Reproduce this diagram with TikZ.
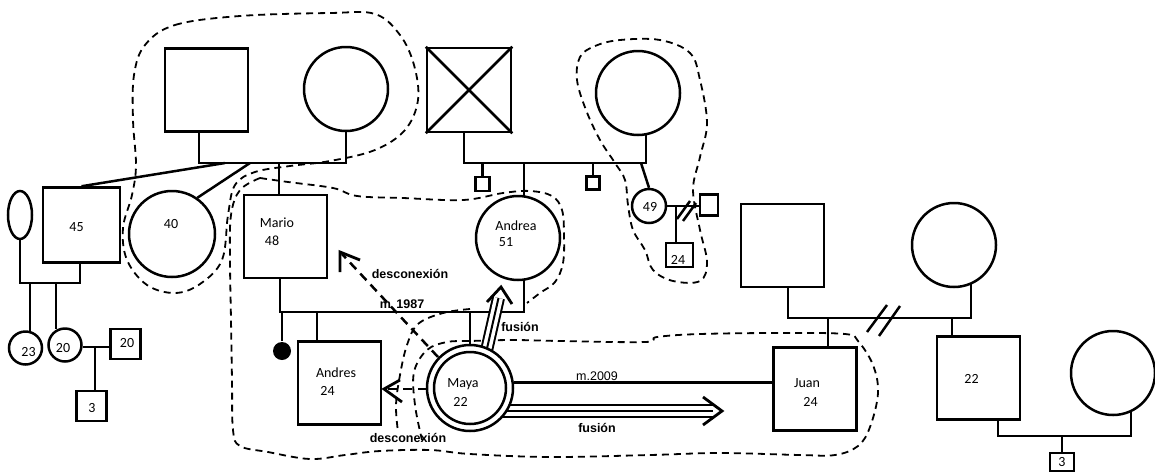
\documentclass[tikz,border=0pt]{standalone}
\usepackage{fontspec}
\setmainfont{Carlito}
\newfontfamily\arialf{Liberation Sans}
\usetikzlibrary{shapes.geometric}
\begin{document}
\begin{tikzpicture}[x=1pt,y=-1pt,line width=2.5pt,
  sq/.style={draw,rectangle,minimum width=#1,minimum height=#1,inner sep=0pt},
  rc/.style={draw,circle,minimum size=#1,inner sep=0pt},
  nm/.style={inner sep=0pt,font=\fontsize{14}{16}\selectfont},
  lbl/.style={inner sep=0pt,font=\arialf\bfseries\fontsize{12.5}{14}\selectfont},
  lblr/.style={inner sep=0pt,font=\arialf\fontsize{12.5}{14}\selectfont},
  dsh/.style={line width=1.8pt,dash pattern=on 7pt off 5pt},
  dashar/.style={line width=2.5pt,dash pattern=on 9pt off 6pt},
  chev/.style={line width=2.8pt}]
\useasboundingbox (0,0) rectangle (1155,472);

% ---------- dashed boundaries ----------
\draw[dsh] plot[smooth cycle,tension=0.6] coordinates {(145,45) (175,25) (240,16) (330,13) (375,14) (400,35) (414,65) (418,100) (405,130) (375,150) (330,161) (290,166) (255,172) (235,185) (228,215) (222,260) (200,284) (175,293) (147,285) (127,260) (123,228) (132,195) (136,165) (133,120) (134,75)};
\draw[dsh] plot[smooth,tension=0.6] coordinates {(260,178) (288,182) (333,188) (357,196) (403,198) (463,200) (503,193) (530,191) (552,196) (562,210) (564,235) (563,263) (555,282) (540,293) (527,303)};
\draw[dsh] plot[smooth,tension=0.6] coordinates {(260,178) (240,190) (231,215) (230,260) (231,320) (232,380) (233,430) (240,446) (268,452) (310,459) (345,455) (380,451) (430,450) (470,454) (550,457) (650,455) (720,453) (800,455) (835,455) (858,446) (870,427) (878,393) (873,365) (858,341) (845,334) (780,333) (700,334) (657,337) (645,342) (560,341) (513,340) (470,341) (447,342) (427,350) (414,372) (415,405) (422,440)};
\draw[dsh] plot[smooth,tension=0.6] coordinates {(470,309) (443,313) (418,324) (407,345) (400,375) (396,405) (398,432)};
\draw[dsh] plot[smooth cycle,tension=0.6] coordinates {(580,57) (595,46) (620,40) (660,40) (690,53) (700,80) (707,123) (700,157) (693,190) (700,230) (707,262) (700,281) (673,281) (653,270) (645,250) (633,230) (628,205) (625,180) (615,163) (600,140) (586,110) (577,80)};

% ---------- top-left grandparents ----------
\node[sq=83pt] (gpM) at (206.5,90) {};
\node[rc=84pt] (gpF) at (346,89) {};
\coordinate (g1) at (199,163);
\coordinate (g2) at (346,163);
\draw (gpM.south -| g1) -- (g1) -- (g2) -- (gpF.south);

% ---------- cross square and right grandmother ----------
\node[sq=84pt] (gpX) at (469,90) {};
\draw (gpX.north west) -- (gpX.south east) (gpX.north east) -- (gpX.south west);
\node[rc=84pt] (gpW) at (638,93) {};
\coordinate (h1) at (464,163);
\coordinate (h2) at (646,163);
\draw (gpX.south -| h1) -- (h1) -- (h2) -- (646,134);

\node[sq=14pt] (s1) at (482.5,184) {};
\node[sq=13pt] (s2) at (593,183) {};
\draw (h1 -| s1) -- (s1.north);
\draw (h1 -| s2) -- (s2.north);

% ---------- left family ----------
\node[draw,rectangle,minimum width=77pt,minimum height=75pt,inner sep=0pt] (p45) at (81.5,225) {};
\node[nm] at (76.5,227) {45};
\node[draw,ellipse,minimum width=24pt,minimum height=48pt,inner sep=0pt] (ov) at (20,215) {};
\node[rc=86pt] (p40) at (172,234) {};
\node[nm] at (171,224) {40};
\coordinate (mA) at (225,163);
\coordinate (mB) at (250,163);
\draw (p45.north) -- (mA);
\draw (p40.55) -- (mB);
\coordinate (k1) at (20,283);
\coordinate (k2) at (80,283);
\draw (ov.south) -- (k1) -- (k2) -- (k2 |- p45.south);
\node[rc=33pt] (p23) at (25.5,348) {};
\node[nm] at (28.5,352) {23};
\node[rc=33pt] (p20) at (65,345) {};
\node[nm] at (63,348) {20};
\draw (30,283) -- (30,332);
\draw (56,283) -- (56,329);
\node[sq=30pt] (q20) at (125.5,344) {};
\node[nm] at (127,343) {20};
\coordinate (k3) at (95,347);
\draw (p20.east |- k3) -- (q20.west |- k3);
\node[sq=30pt] (q3) at (91.5,406) {};
\node[nm] at (92,408) {3};
\draw (k3) -- (k3 |- q3.north);

% ---------- Mario / Andrea ----------
\node[sq=83pt] (mario) at (285.5,236.5) {};
\node[nm] at (277,223) {Mario};
\node[nm] at (272,241) {48};
\draw (279,163) -- (279,195);
\node[rc=84pt] (andrea) at (518,238) {};
\node[nm] at (516,226) {Andrea};
\node[nm] at (506,242) {51};
\draw (524,163) -- (524,196.5);

% ---------- 49 ----------
\node[rc=34pt] (p49) at (649,206) {};
\node[nm] at (650,207) {49};
\draw (641,163) -- (p49.north);
\node[draw,rectangle,minimum width=18pt,minimum height=21pt,inner sep=0pt] (pR) at (709,205) {};
\draw (p49.east) -- (pR.west |- p49.east);
\draw (677,219) -- (690,201) (683,221) -- (696,203);
\node[draw,rectangle,minimum width=27pt,minimum height=24pt,inner sep=0pt] (p24) at (679.5,255) {};
\node[nm] at (678,260) {24};
\draw (676,206) -- (676,243);

% ---------- Mario's children ----------
\coordinate (c1) at (280,312);
\coordinate (c2) at (524,312);
\draw (c1 |- mario.south) -- (c1) -- (c2) -- (524,279.6);
\node[lbl] at (402,304) {m\, 1987};
\node[circle,fill=black,minimum size=18pt,inner sep=0pt] (dot) at (282,351) {};
\draw (282,312) -- (dot.north);
\node[sq=83pt] (andres) at (339.5,383) {};
\node[nm] at (336,373) {Andres};
\node[nm] at (327.5,391) {24};
\draw (317,312) -- (317,341.5);

% ---------- fusion arrows (shafts under Maya) ----------
\coordinate (fuA) at (478,388);
\coordinate (fuB) at (498.5,298);
\draw[line width=13pt] (fuA) -- (fuB);
\draw[white,line width=9pt] (fuA) -- (fuB);
\draw[line width=2pt] (fuA) -- (fuB);
\coordinate (fuTip) at (501,287);
\draw[chev] (487,302) -- (fuTip) -- (512,304);
\node[lbl] at (520,327) {fusión};

\coordinate (fhA) at (470,411);
\coordinate (fhB) at (713,411);
\draw[line width=14pt] (fhA) -- (fhB);
\draw[white,line width=9.5pt] (fhA) -- (fhB);
\draw[line width=2.2pt] (fhA) -- (fhB);
\coordinate (fhTip) at (722,411);
\draw[chev] (703,397) -- (fhTip) -- (703,425);
\node[lbl] at (597,428) {fusión};

% ---------- Maya ----------
\node[rc=86pt,fill=white] (maya) at (470,388) {};
\node[rc=72pt] (mayain) at (470,388) {};
\node[nm] at (463,384) {Maya};
\node[nm] at (460.5,402) {22};
\draw (470,312) -- (maya.north);

% ---------- desconexion arrows ----------
\coordinate (d1a) at (438,357);
\coordinate (d1b) at (342,254);
\draw[dashar] (d1a) -- (d1b);
\draw[chev] (340,272) -- (340,252) -- (360,260);
\node[lbl] at (410,274) {desconexión};
\coordinate (d2a) at (427,389);
\coordinate (d2b) at (386,389);
\draw[dashar] (d2a) -- (d2b);
\draw[chev] (400,380) -- (384,389) -- (402,402);
\node[lbl] at (408,438) {desconexión};

% ---------- Juan ----------
\node[sq=83pt] (juan) at (815,389) {};
\node[nm] at (807,383) {Juan};
\node[nm] at (810.5,402) {24};
\draw (maya.7) -- (juan.west |- maya.7);
\node[lblr] at (597,376) {m.2009};

% ---------- right family ----------
\node[sq=83pt] (rF) at (782.5,245.5) {};
\node[rc=84pt] (rM) at (954,245) {};
\coordinate (r1) at (788,318);
\coordinate (r2) at (971,318);
\draw (r1 |- rF.south) -- (r1) -- (r2) -- (971,283);
\draw (867,332) -- (887,305) (879,336) -- (900,306);
\draw (828,318) -- (828,347.5);
\node[sq=83pt] (p22) at (978.5,378) {};
\node[nm] at (971.5,379) {22};
\draw (952,318) -- (952,336.5);
\node[rc=84pt] (rW) at (1113,373) {};
\coordinate (t1) at (998,436);
\coordinate (t2) at (1131,436);
\draw (t1 |- p22.south) -- (t1) -- (t2) -- (1131,412);
\node[draw,rectangle,minimum width=24pt,minimum height=18pt,inner sep=0pt] (q3b) at (1062,462) {};
\node[nm] at (1062,462) {3};
\draw (1062,436) -- (q3b.north);
\end{tikzpicture}
\end{document}
